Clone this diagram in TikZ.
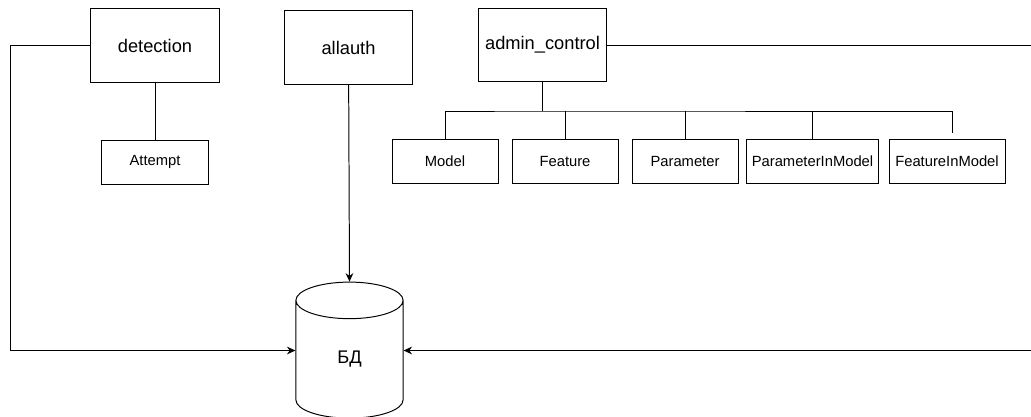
\documentclass[tikz,border=0pt]{standalone}
\usepackage{fontspec}
\setmainfont{Liberation Sans}
\usepackage{tikz}
\usetikzlibrary{calc,shapes.geometric,arrows.meta,positioning}
\tikzset{
    app element/.style={
        draw,line width=0.7pt,
        fill=white,
        minimum width=3.2cm,minimum height=1.83cm,
        inner sep=1pt,
        font=\fontsize{13}{15}\selectfont
    },
    table element/.style={
        draw,line width=0.7pt,
        fill=white,
        minimum width=2.65cm,minimum height=1.1cm,
        inner sep=1pt,
        font=\fontsize{10.5}{12}\selectfont
    },
    db element/.style={
        draw,line width=0.7pt,
        cylinder,shape border rotate=90,aspect=1.5,
        minimum width=2.68cm,minimum height=3.4cm,
        inner sep=0pt,
        font=\fontsize{13}{15}\selectfont
    },
    >={Stealth[length=6pt,width=5.5pt]}
}

\begin{document}
\begin{tikzpicture}[x=0.025cm,y=-0.025cm,line width=0.7pt]
\useasboundingbox (0,0) rectangle (1031,416);
\node[app element] (detection) at (155,45.5) {detection};
\node[app element] (allauth) at (348.5,47.5) {allauth};
\node[app element] (admin) at (542.5,45) {admin\_control};
\node[table element] (attempt) at (155,162) {Attempt};
\foreach \name/\x/\w in {Model/445/2.65,Feature/565/2.65,Parameter/685/2.65,ParameterInModel/812.5/3.28,FeatureInModel/947/2.9}
    \node[table element,minimum width=\w cm] (\name) at (\x,161.5) {\name};
\node[db element] (db) at (349.5,359.5) {\raisebox{-5pt}{БД}};

\coordinate (bus) at (542.5,111);
\coordinate (fimstub) at (952,133);
\coordinate (rightout) at (1031,45);
\coordinate (rightin) at (1031,350.5);

\draw (detection) -- (attempt);
\draw (admin) -- (bus);
\draw (Model.north) |- (bus) -| (fimstub);
\foreach \name in {Feature,Parameter,ParameterInModel}
    \draw (\name.north) -- (\name.north |- bus);

\draw[->] (allauth) -- (db.north);
\draw[->] (detection.west) -- ++(-80,0) |- (rightin -| db.west);
\draw (admin.east) -- (rightout);
\draw[->] (rightin) -- (rightin -| db.east);
\end{tikzpicture}
\end{document}
